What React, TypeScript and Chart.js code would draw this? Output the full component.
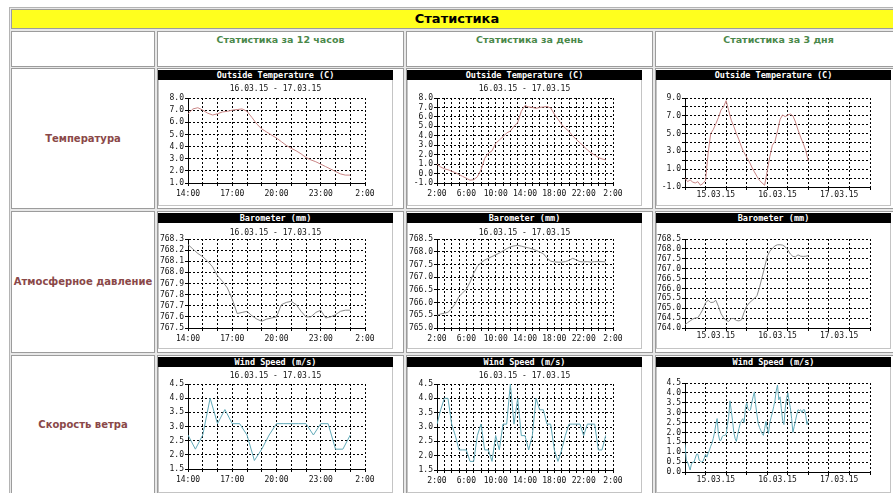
import React, { useEffect, useRef } from "react";
import { Chart, registerables } from "chart.js";

Chart.register(...registerables);

const MONO = '"DejaVu Sans Mono", monospace';
Chart.defaults.font.family = MONO;

// ---------- text ----------
const pageTitle = "Статистика";
const periodTitles = ["Статистика за 12 часов", "Статистика за день", "Статистика за 3 дня"];
const rowTitles = ["Температура", "Атмосферное давление", "Скорость ветра"];
const chartTitles = ["Outside Temperature (C)", "Barometer (mm)", "Wind Speed (m/s)"];
const dateRange = "16.03.15 - 17.03.15";
const dayLabels3d = ["15.03.15", "16.03.15", "17.03.15"];

// ---------- data ----------
// 12 hours: start 14:00, temperature & pressure every 20 min, wind every 30 min
const temp12h = [6.7, 7.1, 7.2, 7.0, 6.75, 6.6, 6.7, 6.85, 6.9, 7.0, 7.05, 7.1, 6.9, 6.4, 5.85, 5.45, 5.2, 4.95, 4.7, 4.4, 4.1, 3.85, 3.65, 3.4, 3.1, 2.9, 2.75, 2.55, 2.35, 2.15, 1.95, 1.75, 1.65, 1.65];
const baro12h = [768.25, 768.21, 768.17, 768.14, 768.10, 768.05, 767.97, 767.92, 767.86, 767.76, 767.63, 767.64, 767.65, 767.61, 767.58, 767.56, 767.58, 767.59, 767.60, 767.71, 767.73, 767.74, 767.71, 767.65, 767.60, 767.60, 767.64, 767.66, 767.59, 767.60, 767.62, 767.65, 767.66, 767.66];
const wind12h = [2.7, 2.2, 2.7, 4.0, 3.1, 3.6, 3.1, 3.1, 2.7, 1.8, 2.2, 2.7, 3.1, 3.1, 3.1, 3.1, 3.1, 2.7, 3.1, 3.1, 2.2, 2.2, 2.7];

// 1 day: start 2:00, every 30 min
const tempDay = [1.0, 0.7, 0.5, 0.4, 0.25, 0.1, -0.1, -0.3, -0.5, -0.7, -0.65, -0.35, 0.4, 1.6, 2.15, 2.4, 3.2, 3.55, 3.9, 4.3, 4.5, 5.0, 5.4, 6.6, 7.2, 7.05, 7.0, 6.9, 7.0, 7.05, 7.1, 6.95, 6.3, 5.75, 5.2, 4.8, 4.45, 4.0, 3.6, 3.25, 2.9, 2.5, 2.2, 1.95, 1.7, 1.55, 1.45];
const baroDay = [765.50, 765.55, 765.58, 765.62, 765.76, 765.96, 766.24, 766.38, 766.53, 766.80, 767.15, 767.42, 767.57, 767.67, 767.74, 767.81, 767.88, 767.95, 768.03, 768.12, 768.19, 768.23, 768.25, 768.22, 768.18, 768.15, 768.11, 768.05, 767.99, 767.92, 767.75, 767.63, 767.60, 767.59, 767.59, 767.61, 767.66, 767.74, 767.68, 767.61, 767.60, 767.61, 767.59, 767.61, 767.61, 767.61, 767.60];
const windDay = [3.1, 3.6, 4.0, 4.0, 3.1, 2.7, 2.2, 2.2, 2.2, 1.8, 1.8, 2.7, 3.1, 2.2, 2.2, 1.8, 2.7, 2.2, 3.1, 3.1, 4.5, 3.1, 4.0, 2.7, 2.7, 2.2, 2.7, 4.0, 3.6, 3.6, 3.1, 3.1, 2.2, 1.8, 2.2, 2.7, 3.1, 3.1, 3.1, 3.1, 2.7, 3.1, 3.1, 3.1, 2.2, 2.2, 2.7];

// 3 days: start 15.03.15 0:00; temperature & pressure every hour, wind every 30 min
const temp3d = [0.0, -0.4, -0.2, -0.45, -0.55, -0.4, -0.8, -0.6, -0.25, 2.8, 5.0, 5.45, 6.1, 6.8, 7.65, 8.0, 8.7, 7.6, 6.5, 5.8, 5.0, 4.3, 3.5, 2.85, 2.35, 1.85, 1.25, 0.7, 0.2, -0.25, -0.55, -0.8, 0.8, 2.4, 3.7, 4.1, 5.3, 6.6, 7.1, 6.9, 7.1, 7.2, 7.0, 6.3, 5.4, 4.6, 3.9, 3.1, 1.9];
const baro3d = [764.17, 764.27, 764.36, 764.45, 764.51, 764.52, 764.72, 764.95, 765.28, 765.40, 765.29, 765.30, 765.40, 765.10, 764.73, 764.52, 764.38, 764.33, 764.48, 764.48, 764.38, 764.36, 764.42, 764.80, 765.10, 765.27, 765.38, 765.50, 765.63, 766.05, 766.57, 767.08, 767.62, 767.88, 768.03, 768.15, 768.21, 768.21, 768.19, 768.11, 767.95, 767.74, 767.62, 767.60, 767.70, 767.63, 767.62, 767.63, 767.66];
const wind3d = [1.4, 0.6, 0.5, 0.3, 0.1, 0.4, 0.5, 0.5, 0.7, 0.9, 0.9, 0.6, 0.55, 0.5, 0.55, 0.7, 0.9, 0.75, 0.95, 1.1, 1.3, 1.45, 1.7, 2.0, 2.4, 2.7, 1.9, 1.6, 1.6, 1.8, 1.85, 1.85, 1.9, 2.35, 2.8, 3.6, 3.1, 2.6, 2.0, 1.7, 1.55, 1.9, 2.2, 2.45, 2.6, 2.7, 2.5, 3.2, 3.5, 3.2, 3.1, 3.15, 3.5, 3.8, 4.05, 3.4, 2.9, 2.45, 2.25, 2.1, 1.95, 1.85, 2.2, 2.55, 2.2, 1.95, 2.5, 2.75, 3.0, 3.3, 3.6, 4.1, 4.4, 3.65, 3.8, 3.2, 2.6, 2.4, 3.2, 3.7, 4.0, 3.6, 3.25, 2.7, 2.0, 2.3, 2.6, 2.9, 3.15, 3.1, 3.15, 3.0, 3.15, 3.15, 2.85, 2.4, 2.6];

// ---------- layout ----------
const COL_X = [158, 407, 656];
const ROW_Y = [70, 213, 357];
const CHART_W = 235;
const BAR_H = 10;
const CANVAS_H = 126;
const X_AXIS_H = 16;

type Axis = { min: number; max: number; step: number; every?: number };
type PeriodKind = "h12" | "day" | "d3";

type Spec = {
  title: string;
  subtitle?: string;
  subC: number;
  kind: PeriodKind;
  values: number[];
  x0: number;
  dx: number;
  y: Axis;
  color: string;
  plot: { l: number; r: number; t: number; b: number };
};

const X_AXES: Record<PeriodKind, Axis> = {
  h12: { min: 14, max: 26, step: 1, every: 3 },
  day: { min: 2, max: 26, step: 1, every: 4 },
  d3: { min: 0, max: 72, step: 4 },
};

const LINE_COLORS = ["#c98585", "#8c8c8c", "#62aab8"];

const PLOT_X: Record<PeriodKind, { l: number; r: number }> = {
  h12: { l: 30, r: 207 },
  day: { l: 30, r: 206 },
  d3: { l: 29, r: 214 },
};

function makeSpecs(): Spec[][] {
  const kinds: PeriodKind[] = ["h12", "day", "d3"];
  const series = [
    [temp12h, tempDay, temp3d],
    [baro12h, baroDay, baro3d],
    [wind12h, windDay, wind3d],
  ];
  const yAxes: Axis[][] = [
    [{ min: 1, max: 8, step: 1 }, { min: -1, max: 8, step: 1 }, { min: -1, max: 9, step: 1, every: 2 }],
    [{ min: 767.5, max: 768.3, step: 0.1 }, { min: 765, max: 768.5, step: 0.5 }, { min: 764, max: 768.5, step: 0.5 }],
    [{ min: 1.5, max: 4.5, step: 0.5 }, { min: 1.5, max: 4.5, step: 0.5 }, { min: 0, max: 4.5, step: 0.5 }],
  ];
  const sampling = [
    [[14, 1 / 3], [2, 0.5], [0, 1]],
    [[14, 1 / 3], [2, 0.5], [0, 1]],
    [[14, 0.5], [2, 0.5], [0, 0.5]],
  ];
  const tb = [
    [{ t: 18, b: 103 }, { t: 18, b: 103 }, { t: 18, b: 107 }],
    [{ t: 16, b: 105 }, { t: 16, b: 105 }, { t: 16, b: 105 }],
    [{ t: 17, b: 102 }, { t: 17, b: 103 }, { t: 16, b: 105 }],
  ];
  const subCs = [9, 9.7, 8.7];
  return series.map((row, r) =>
    row.map((vals, c) => ({
      title: chartTitles[r],
      subtitle: c < 2 ? dateRange : undefined,
      subC: subCs[r],
      kind: kinds[c],
      values: vals,
      x0: sampling[r][c][0],
      dx: sampling[r][c][1],
      y: yAxes[r][c],
      color: LINE_COLORS[r],
      plot: { ...PLOT_X[kinds[c]], ...tb[r][c] },
    }))
  );
}

function tickValues(a: Axis): number[] {
  const n = Math.round((a.max - a.min) / a.step);
  const out: number[] = [];
  for (let i = 0; i <= n; i++) out.push(Math.round((a.min + i * a.step) * 1000) / 1000);
  return out;
}

function xLabel(kind: PeriodKind, v: number): string {
  const a = X_AXES[kind];
  if (kind === "d3") {
    if (v % 24 === 12) return dayLabels3d[(v - 12) / 24] ?? "";
    return "";
  }
  if ((v - a.min) % (a.every || 1) !== 0) return "";
  return `${v % 24}:00`;
}

// Draws the date-range subtitle centred on the whole chart image.
const centerSubtitle = {
  id: "centerSubtitle",
  afterDraw(chart: any, _args: any, opts: any) {
    if (!opts || !opts.text) return;
    const ctx = chart.ctx;
    ctx.save();
    ctx.font = `8px ${MONO}`;
    ctx.fillStyle = "#111";
    ctx.textAlign = "center";
    ctx.textBaseline = "middle";
    ctx.fillText(opts.text, chart.width / 2, opts.y);
    ctx.restore();
  },
};

function MiniChart({ spec }: { spec: Spec }) {
  const ref = useRef<HTMLCanvasElement | null>(null);
  useEffect(() => {
    const W = CHART_W;
    const H = CANVAS_H;
    const { plot } = spec;
    const points = spec.values.map((v, i) => ({ x: spec.x0 + i * spec.dx, y: v }));
    const xa = X_AXES[spec.kind];
    const is3d = spec.kind === "d3";
    const gridVisible = (v: number) => (is3d ? v % 8 === 0 : true);
    const yEvery = spec.y.every || 1;
    const yTicks = tickValues(spec.y);
    const xTicks = tickValues(xa);
    const chart = new Chart(ref.current as HTMLCanvasElement, {
      type: "line",
      data: {
        datasets: [
          {
            data: points,
            borderColor: spec.color,
            borderWidth: 1,
            pointRadius: 0,
            tension: 0,
            fill: false,
          },
        ],
      },
      plugins: [centerSubtitle],
      options: {
        animation: false,
        responsive: false,
        maintainAspectRatio: false,
        events: [],
        layout: {
          padding: {
            left: 0,
            right: W - plot.r,
            top: plot.t,
            bottom: H - plot.b - X_AXIS_H,
          },
        },
        plugins: {
          legend: { display: false },
          tooltip: { enabled: false },
          title: { display: false },
          centerSubtitle: { text: spec.subtitle, y: spec.subC },
        },
        scales: {
          x: {
            type: "linear",
            min: xa.min,
            max: xa.max,
            afterFit: (s: any) => {
              s.height = X_AXIS_H;
            },
            afterBuildTicks: (s: any) => {
              s.ticks = xTicks.map((v) => ({ value: v }));
            },
            ticks: {
              autoSkip: false,
              maxRotation: 0,
              minRotation: 0,
              padding: is3d ? 0 : 3,
              color: "#111",
              font: { family: MONO, size: 8 },
              callback: (v: any) => xLabel(spec.kind, Number(v)),
            },
            grid: {
              color: (ctx: any) => (ctx.tick && gridVisible(ctx.tick.value) ? "#000" : "rgba(0,0,0,0)"),
              tickColor: (ctx: any) => (ctx.tick && gridVisible(ctx.tick.value) ? "#000" : "rgba(0,0,0,0)"),
              lineWidth: 1,
              tickLength: 3,
              tickBorderDash: [],
            },
            border: { display: true, color: "#000", width: 1, dash: [2, 2] },
          },
          y: {
            type: "linear",
            min: spec.y.min,
            max: spec.y.max,
            afterFit: (s: any) => {
              s.width = plot.l;
            },
            afterBuildTicks: (s: any) => {
              s.ticks = yTicks.map((v) => ({ value: v }));
            },
            ticks: {
              autoSkip: false,
              padding: 1,
              color: "#111",
              font: { family: MONO, size: 8 },
              callback: (v: any) => {
                const val = Number(v);
                const k = Math.round((val - spec.y.min) / spec.y.step);
                if (k % yEvery !== 0) return "";
                return val.toFixed(1);
              },
            },
            grid: {
              color: "#000",
              tickColor: "#000",
              lineWidth: 1,
              tickLength: 3,
              tickBorderDash: [],
            },
            border: { display: true, color: "#000", width: 1, dash: [2, 2] },
          },
        },
      } as any,
    });
    return () => chart.destroy();
  }, [spec]);
  return (
    <canvas
      ref={ref}
      width={CHART_W}
      height={CANVAS_H}
      style={{ display: "block", width: CHART_W, height: CANVAS_H, background: "#fff" }}
    />
  );
}

const BORDER = "1px solid #9c9c9c";
const COLS = [
  { x: 11, w: 144 },
  { x: 157, w: 247 },
  { x: 406, w: 247 },
  { x: 655, w: 247 },
];
const ROWS = [
  { y: 31, h: 36 },
  { y: 68, h: 141 },
  { y: 211, h: 142 },
  { y: 355, h: 150 },
];

function Cell({ x, y, w, h, children, bg }: any) {
  return (
    <div
      style={{
        position: "absolute",
        left: x,
        top: y,
        width: w,
        height: h,
        boxSizing: "border-box",
        border: BORDER,
        background: bg || "#fff",
      }}
    >
      {children}
    </div>
  );
}

export default function App() {
  const specs = React.useMemo(() => makeSpecs(), []);
  return (
    <div
      style={{
        position: "absolute",
        left: 0,
        top: 0,
        width: 893,
        height: 493,
        overflow: "hidden",
        background: "#fff",
        fontFamily: '"DejaVu Sans", sans-serif',
      }}
    >
      <div
        style={{
          position: "absolute",
          left: 9,
          top: 7,
          width: 896,
          height: 500,
          boxSizing: "border-box",
          border: "1px solid #b4b4b4",
          background: "#e8e8e8",
        }}
      />
      <Cell x={11} y={9} w={892} h={20} bg="#ffff1e">
        <div
          style={{
            textAlign: "center",
            fontWeight: "bold",
            fontSize: 13,
            lineHeight: "18px",
            color: "#000",
          }}
        >
          {pageTitle}
        </div>
      </Cell>
      {COLS.map((c, i) => (
        <Cell key={"h" + i} x={c.x} y={ROWS[0].y} w={c.w} h={ROWS[0].h}>
          {i > 0 && (
            <div
              style={{
                textAlign: "center",
                fontWeight: "bold",
                fontSize: 9.5,
                lineHeight: "12px",
                paddingTop: 2,
                color: "#4a884a",
              }}
            >
              {periodTitles[i - 1]}
            </div>
          )}
        </Cell>
      ))}
      {[0, 1, 2].map((r) => (
        <React.Fragment key={"r" + r}>
          <Cell x={COLS[0].x} y={ROWS[r + 1].y} w={COLS[0].w} h={ROWS[r + 1].h}>
            <div
              style={{
                position: "absolute",
                left: 0,
                right: 0,
                top: r === 2 ? 62 : (ROWS[r + 1].h - 2) / 2 - 7,
                textAlign: "center",
                fontWeight: "bold",
                fontSize: 10,
                lineHeight: "14px",
                color: "#8a4848",
              }}
            >
              {rowTitles[r]}
            </div>
          </Cell>
          {[1, 2, 3].map((c) => (
            <Cell key={"c" + c} x={COLS[c].x} y={ROWS[r + 1].y} w={COLS[c].w} h={ROWS[r + 1].h} />
          ))}
        </React.Fragment>
      ))}
      {specs.map((row, r) =>
        row.map((spec, c) => (
          <div
            key={`ch${r}-${c}`}
            style={{ position: "absolute", left: COL_X[c], top: ROW_Y[r], width: CHART_W }}
          >
            <div
              style={{
                height: BAR_H,
                background: "#000",
                color: "#fff",
                fontFamily: MONO,
                fontWeight: "bold",
                fontSize: 8.5,
                lineHeight: BAR_H + "px",
                textAlign: "center",
                whiteSpace: "nowrap",
              }}
            >
              {spec.title}
            </div>
            <div style={{ position: "relative" }}>
              <MiniChart spec={spec} />
              <div
                style={{
                  position: "absolute",
                  left: 0,
                  top: 0,
                  width: CHART_W,
                  height: CANVAS_H,
                  boxSizing: "border-box",
                  borderLeft: "1px solid #c4c4c4",
                  borderRight: "1px solid #c4c4c4",
                  borderBottom: "1px solid #c4c4c4",
                  pointerEvents: "none",
                }}
              />
            </div>
          </div>
        ))
      )}
    </div>
  );
}
